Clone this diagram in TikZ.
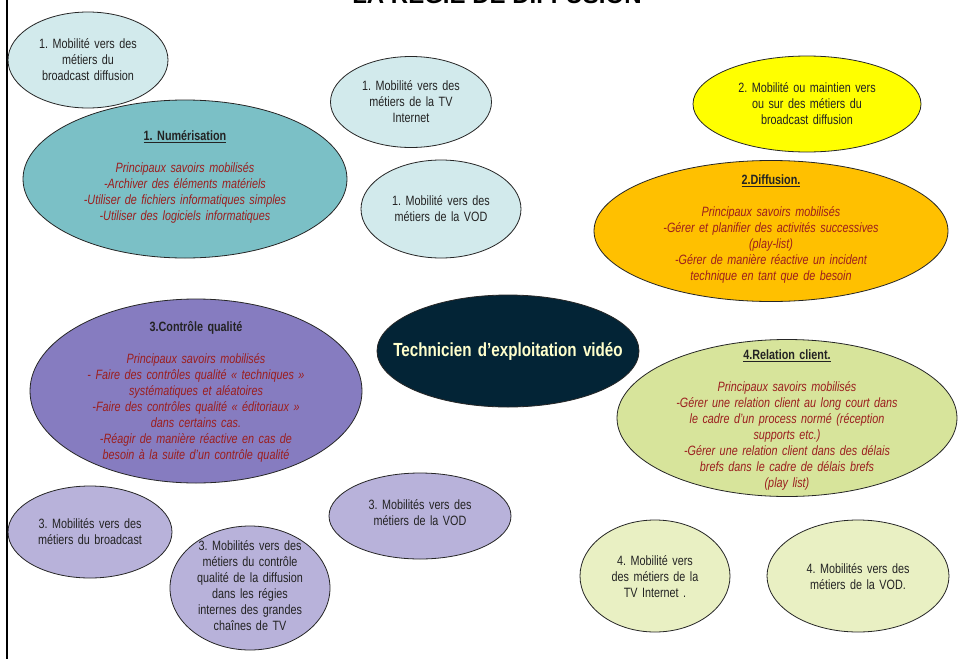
\documentclass[tikz,border=0pt]{standalone}
\usepackage{fontspec}
\setmainfont{Liberation Sans}[FakeStretch=0.80]
\newfontfamily\titlefont{Liberation Sans}
\usetikzlibrary{shapes.geometric}
\definecolor{lblue}{RGB}{210,234,236}
\definecolor{teal1}{RGB}{123,192,198}
\definecolor{yel}{RGB}{255,255,0}
\definecolor{orng}{RGB}{255,192,0}
\definecolor{purp}{RGB}{134,124,192}
\definecolor{lpurp}{RGB}{184,178,218}
\definecolor{navy}{RGB}{3,36,54}
\definecolor{pale}{RGB}{255,255,204}
\definecolor{grn}{RGB}{215,228,155}
\definecolor{lgrn}{RGB}{233,240,195}
\definecolor{savred}{RGB}{155,30,30}
\definecolor{txtgray}{RGB}{35,35,35}
\frenchspacing
\begin{document}
\begin{tikzpicture}[x=1pt,y=-1pt,
  bub/.style={ellipse, draw=black!85, line width=0.8pt, inner sep=0pt},
  txt/.style={align=center, text width=330pt, inner sep=0pt, text=txtgray,
    font=\fontsize{13.5}{16}\selectfont}]
\path[use as bounding box, fill=white] (0,0) rectangle (962,659);
\draw[line width=2pt] (7,0) -- (7,659);
\node[anchor=base, font=\titlefont\bfseries\fontsize{24}{28}\selectfont] (title) at (497,3) {LA RÉGIE DE DIFFUSION};

% 1. blue family
\node[bub, fill=lblue, minimum width=160pt, minimum height=96pt] (m1a) at (88,60) {};
\node[txt] (m1at) at (m1a) {1. Mobilité vers des\\métiers du\\broadcast diffusion};

\node[bub, fill=teal1, minimum width=324pt, minimum height=158pt] (num) at (185,179) {};
\node[txt] (numt) at (185,177) {\textbf{\underline{1. Numérisation}}\\[16pt]
{\itshape\color{savred}Principaux savoirs mobilisés\\-Archiver des éléments matériels\\-Utiliser de fichiers informatiques simples\\-Utiliser des logiciels informatiques}};

\node[bub, fill=lblue, minimum width=161pt, minimum height=91pt] (m1b) at (411,102) {};
\node[txt] (m1bt) at (m1b) {1. Mobilité vers des\\métiers de la TV\\Internet};

\node[bub, fill=lblue, minimum width=160pt, minimum height=98pt] (m1c) at (441,209) {};
\node[txt] (m1ct) at (m1c) {1. Mobilité vers des\\métiers de la VOD};

% 2. yellow / orange
\node[bub, fill=yel, minimum width=228pt, minimum height=96pt] (m2) at (807,104) {};
\node[txt] (m2t) at (m2) {2. Mobilité ou maintien vers\\ou sur des métiers du\\broadcast diffusion};

\node[bub, fill=orng, minimum width=354pt, minimum height=141pt] (dif) at (771,231) {};
\node[txt] (dift) at (771,229) {\textbf{\underline{2.Diffusion.}}\\[16pt]
{\itshape\color{savred}Principaux savoirs mobilisés\\-Gérer et planifier des activités successives\\(play-list)\\-Gérer de manière réactive un incident\\technique en tant que de besoin}};

% 3. purple family
\node[bub, fill=purp, minimum width=332pt, minimum height=184pt] (cq) at (196,391) {};
\node[txt] (cqt) at (196,392) {\textbf{3.Contrôle qualité}\\[16pt]
{\itshape\color{savred}Principaux savoirs mobilisés\\- Faire des contrôles qualité « techniques »\\systématiques et aléatoires\\-Faire des contrôles qualité « éditoriaux »\\dans certains cas.\\-Réagir de manière réactive en cas de\\besoin à la suite d’un contrôle qualité}};

\node[bub, fill=lpurp, minimum width=164pt, minimum height=92pt] (m3a) at (90,532) {};
\node[txt] (m3at) at (m3a) {3. Mobilités vers des\\métiers du broadcast};

\node[bub, fill=lpurp, minimum width=160pt, minimum height=124pt] (m3b) at (250,588) {};
\node[txt] (m3bt) at (250,586) {3. Mobilités vers des\\métiers du contrôle\\qualité de la diffusion\\dans les régies\\internes des grandes\\chaînes de TV};

\node[bub, fill=lpurp, minimum width=182pt, minimum height=86pt] (m3c) at (420,516) {};
\node[txt] (m3ct) at (420,513) {3. Mobilités vers des\\métiers de la VOD};

% centre
\node[bub, fill=navy, minimum width=262pt, minimum height=112pt] (tech) at (508,351) {};
\node[txt, text=pale, font=\bfseries\fontsize{19}{22}\selectfont] (techt) at (tech) {Technicien d’exploitation vidéo};

% 4. green family
\node[bub, fill=grn, minimum width=340pt, minimum height=157pt] (rc) at (787,418) {};
\node[txt] (rct) at (787,420) {\textbf{\underline{4.Relation client.}}\\[16pt]
{\itshape\color{savred}Principaux savoirs mobilisés\\-Gérer une relation client au long court dans\\le cadre d’un process normé (réception\\supports etc.)\\-Gérer une relation client dans des délais\\brefs dans le cadre de délais brefs\\(play list)}};

\node[bub, fill=lgrn, minimum width=150pt, minimum height=112pt] (m4a) at (655,576) {};
\node[txt] (m4at) at (655,577) {4. Mobilité vers\\des métiers de la\\TV Internet .};

\node[bub, fill=lgrn, minimum width=182pt, minimum height=112pt] (m4b) at (858,576) {};
\node[txt] (m4bt) at (858,577) {4. Mobilités vers des\\métiers de la VOD.};
\end{tikzpicture}
\end{document}
